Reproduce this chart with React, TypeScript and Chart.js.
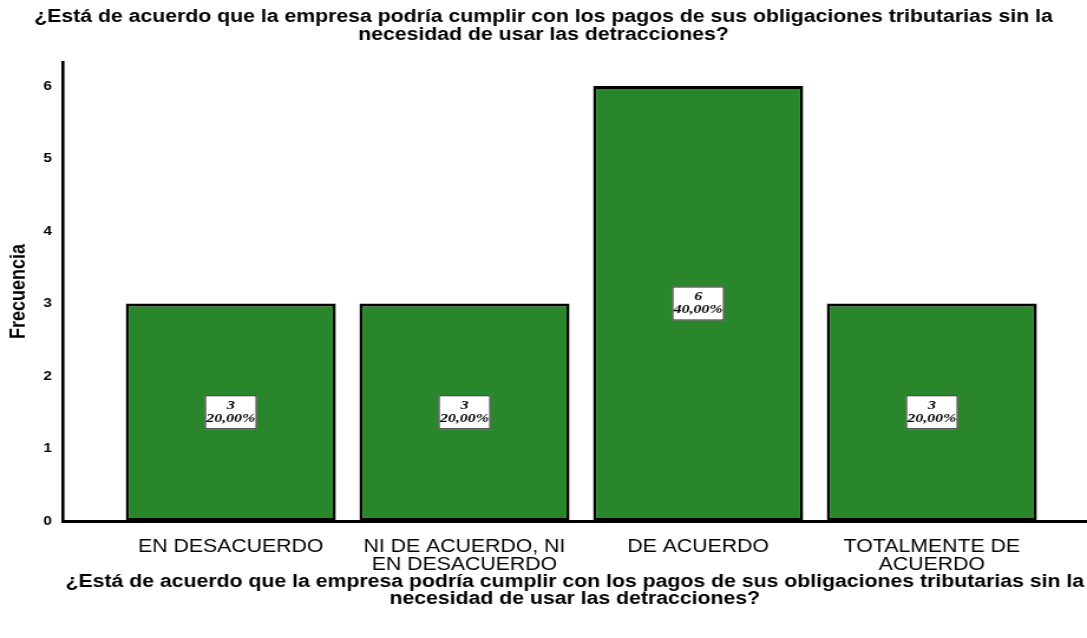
import React, { useEffect, useRef } from "react";
import { Chart, registerables } from "chart.js";

Chart.register(...registerables);

const categories: string[][] = [
  ["EN DESACUERDO"],
  ["NI DE ACUERDO, NI", "EN DESACUERDO"],
  ["DE ACUERDO"],
  ["TOTALMENTE DE", "ACUERDO"],
];
const counts: number[] = [3, 3, 6, 3];
const percents: string[] = ["20,00%", "20,00%", "40,00%", "20,00%"];
const yTicks: number[] = [0, 1, 2, 3, 4, 5, 6];
const titleLines: string[] = [
  "¿Está de acuerdo que la empresa podría cumplir con los pagos de sus obligaciones tributarias sin la",
  "necesidad de usar las detracciones?",
];
const yTitle = "Frecuencia";

const FONT = "'Liberation Sans', Arial, sans-serif";

// drawing surface is laid out narrower and shown stretched horizontally,
// like the reference image
const INNER_W = 921;
const OUTER_W = 1087;
const H = 638;

const labelPlugin = {
  id: "boxLabels",
  afterDatasetsDraw(chart: any) {
    const ctx = chart.ctx;
    const meta = chart.getDatasetMeta(0);
    meta.data.forEach((bar: any, i: number) => {
      const cx = bar.x;
      const cy = (bar.y + bar.base) / 2;
      const w = 44;
      const h = 34;
      ctx.save();
      ctx.fillStyle = "#ffffff";
      ctx.strokeStyle = "#222222";
      ctx.lineWidth = 1;
      ctx.fillRect(cx - w / 2, cy - h / 2, w, h);
      ctx.strokeRect(cx - w / 2 + 0.5, cy - h / 2 + 0.5, w - 1, h - 1);
      ctx.fillStyle = "#000000";
      ctx.textAlign = "center";
      ctx.textBaseline = "middle";
      ctx.font = "italic bold 13.5px 'Liberation Serif', 'DejaVu Serif', serif";
      ctx.fillText(String(counts[i]), cx, cy - 7);
      ctx.fillText(percents[i], cx, cy + 6);
      ctx.restore();
    });
  },
};

export default function App() {
  const ref = useRef<HTMLCanvasElement | null>(null);
  useEffect(() => {
    document.body.style.margin = "0";
    const canvas = ref.current!;
    const chart = new Chart(canvas, {
      type: "bar",
      data: {
        datasets: [
          {
            data: counts.map((v, i) => ({ x: i, y: v })),
            backgroundColor: "#2a862b",
            borderColor: "#000000",
            borderWidth: { top: 3, bottom: 3, left: 2.6, right: 2.6 },
            borderSkipped: false,
            categoryPercentage: 1,
            barPercentage: 0.899,
          },
        ],
      },
      options: {
        animation: false,
        responsive: false,
        maintainAspectRatio: false,
        devicePixelRatio: 1,
        layout: { padding: { left: 0, right: 0, top: 0, bottom: 0 } },
        plugins: {
          legend: { display: false },
          tooltip: { enabled: false },
          title: {
            display: true,
            text: titleLines,
            color: "#000000",
            font: { family: FONT, size: 18, weight: "bold", lineHeight: 1.0 },
            padding: { top: 8, bottom: 18 },
          },
        },
        scales: {
          x: {
            type: "linear",
            offset: false,
            min: -0.72,
            max: 3.664,
            grid: { display: false, drawTicks: false },
            border: { display: true, color: "#000000", width: 3 },
            afterBuildTicks: (scale: any) => {
              scale.ticks = categories.map((_, i) => ({ value: i }));
            },
            afterFit: (scale: any) => {
              scale.height = 117;
            },
            ticks: {
              autoSkip: false,
              maxRotation: 0,
              color: "#000000",
              padding: 17,
              font: { family: FONT, size: 18, lineHeight: 1.0 },
              callback: (value: any) => categories[Math.round(Number(value))] ?? "",
            },
            title: {
              display: true,
              text: titleLines,
              color: "#000000",
              font: { family: FONT, size: 18, weight: "bold", lineHeight: 0.95 },
              padding: { top: 0, bottom: 30 },
            },
          },
          y: {
            min: 0,
            max: 6.331,
            grid: { display: false, drawTicks: false },
            border: { display: true, color: "#000000", width: 2.6 },
            afterBuildTicks: (scale: any) => {
              scale.ticks = yTicks.map((v) => ({ value: v }));
            },
            afterFit: (scale: any) => {
              scale.width = 53;
            },
            ticks: {
              color: "#000000",
              padding: 9,
              font: { family: FONT, size: 13, weight: "bold" },
            },
            title: {
              display: true,
              text: yTitle,
              color: "#000000",
              font: { family: FONT, size: 18, weight: "bold" },
              padding: { top: 5, bottom: 0 },
            },
          },
        },
      },
      plugins: [labelPlugin],
    });
    return () => chart.destroy();
  }, []);
  return (
    <canvas
      ref={ref}
      width={INNER_W}
      height={H}
      style={{ display: "block", width: OUTER_W + "px", height: H + "px" }}
    />
  );
}
